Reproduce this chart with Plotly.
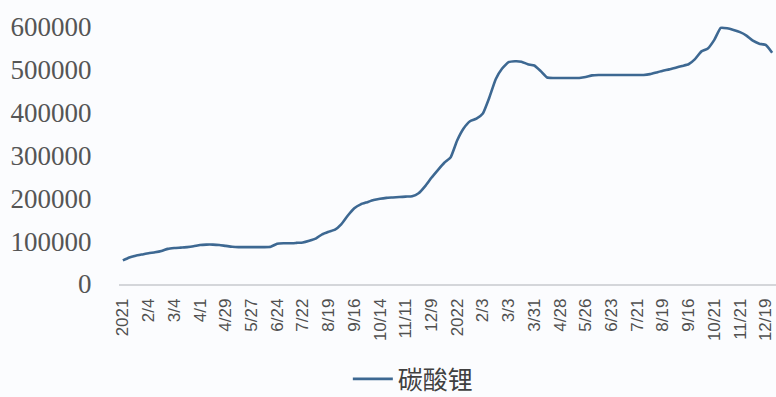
import plotly.graph_objects as go

series_name = "碳酸锂"

tick_labels = ["2021", "2/4", "3/4", "4/1", "4/29", "5/27", "6/24", "7/22", "8/19",
               "9/16", "10/14", "11/11", "12/9", "2022", "2/3", "3/3", "3/31", "4/28",
               "5/26", "6/23", "7/21", "8/19", "9/16", "10/21", "11/21", "12/19"]

prices = [
    55000, 62000, 66000, 69000, 72000, 74000, 77000, 82000, 84000, 85000,
    86000, 88000, 91000, 92000, 92000, 91000, 89000, 87000, 86000, 86000,
    86000, 86000, 86000, 87000, 94000, 95000, 95000, 96000, 97000, 101000,
    106000, 116000, 122000, 127000, 140000, 160000, 177000, 186000, 191000, 196000,
    199000, 201000, 202000, 203000, 204000, 205000, 212000, 228000, 248000, 266000,
    283000, 296000, 335000, 363000, 380000, 386000, 398000, 435000, 478000, 503000,
    518000, 520000, 519000, 513000, 510000, 497000, 482000, 481000, 481000, 481000,
    481000, 481000, 483000, 487000, 488000, 488000, 488000, 488000, 488000, 488000,
    488000, 488000, 490000, 494000, 498000, 501000, 505000, 509000, 513000, 525000,
    543000, 550000, 570000, 598000, 597000, 593000, 588000, 580000, 568000, 561000,
    558000, 540000,
]

x_idx = list(range(len(prices)))
tick_pos = [i * 4 for i in range(len(tick_labels))]

fig = go.Figure()
fig.add_trace(go.Scatter(
    x=x_idx, y=prices, mode="lines", name=series_name,
    line=dict(color="#3d6892", width=2.6, shape="spline", smoothing=0.4),
))

bg = "#fbfcfe"
fig.update_layout(
    width=776, height=397,
    margin=dict(l=119, r=0, t=0, b=113, pad=0, autoexpand=False),
    paper_bgcolor=bg, plot_bgcolor=bg,
    showlegend=True,
    legend=dict(orientation="h", x=0.448, xanchor="center",
                yref="container", y=0.045, yanchor="middle",
                font=dict(family="Noto Sans CJK SC", size=25, color="#404040"),
                bgcolor="rgba(0,0,0,0)", itemwidth=40),
    xaxis=dict(
        range=[-0.6, 101.6], tickmode="array", tickvals=tick_pos, ticktext=tick_labels,
        tickangle=-90, showgrid=False, zeroline=False, automargin=False,
        showline=True, linecolor="#d4d6da", linewidth=1.5,
        ticks="outside", ticklen=6, tickcolor="rgba(0,0,0,0)",
        ticklabeloverflow="allow",
        tickfont=dict(family="Liberation Sans", size=17, color="#505050"),
    ),
    yaxis=dict(
        range=[0, 663000], tickmode="array", automargin=False,
        tickvals=[0, 100000, 200000, 300000, 400000, 500000, 600000],
        ticktext=["0", "100000", "200000", "300000", "400000", "500000", "600000"],
        showgrid=False, zeroline=False, showline=False,
        ticks="outside", ticklen=21, tickcolor="rgba(0,0,0,0)",
        tickfont=dict(family="Liberation Serif", size=27, color="#555555"),
    ),
)

fig.write_html("out.html", config={"displayModeBar": False},
               post_script="document.body.style.margin='0';")
